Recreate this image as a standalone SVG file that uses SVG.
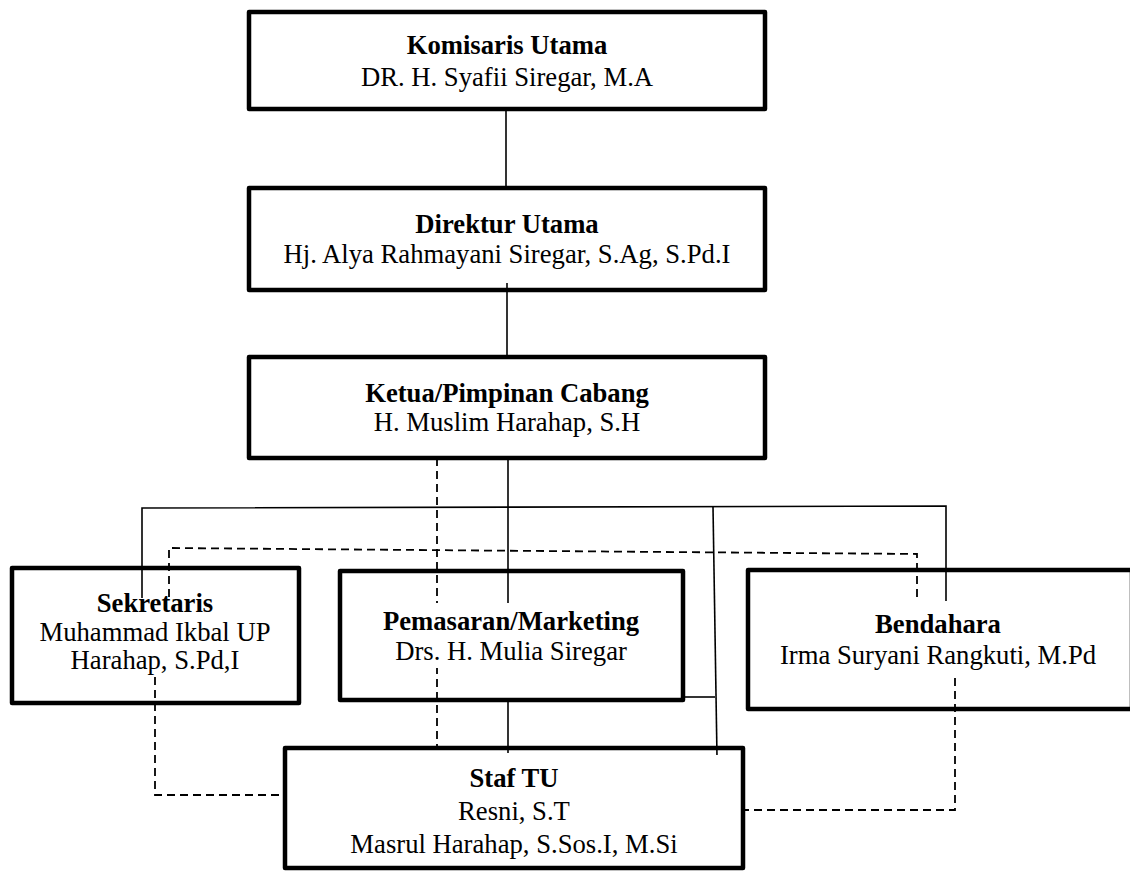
<svg xmlns="http://www.w3.org/2000/svg" width="1130" height="871" viewBox="0 0 1130 871">
<style>
.frame{fill:none;stroke:#000;stroke-width:4.5;stroke-linejoin:round}
.ta{fill:#fff;stroke:none}
.t{font-family:"Liberation Serif","Times New Roman",serif;font-size:26.67px;fill:#000;text-anchor:middle}
.b{font-weight:bold}
.s{fill:none;stroke:#000;stroke-width:1.6}
.d{fill:none;stroke:#000;stroke-width:1.8;stroke-dasharray:8 5}
</style>
<rect width="1130" height="871" fill="#fff"/>
<g id="connectors">
<line class="s" x1="506" y1="109" x2="506" y2="188"/>
<line class="s" x1="507" y1="283" x2="507" y2="357"/>
<line class="s" x1="508" y1="458" x2="508" y2="603"/>
<polyline class="s" points="142,598 142,508 946,506 946,603"/>
<line class="s" x1="713" y1="507" x2="717" y2="757"/>
<line class="s" x1="683" y1="697" x2="715" y2="697"/>
<line class="s" x1="508" y1="700" x2="508" y2="753"/>
<line class="d" x1="437" y1="458" x2="437" y2="748"/>
<polyline class="d" points="169,597 169,548 917,554 917,600"/>
<polyline class="d" points="155,677 155,795 282,795"/>
<polyline class="d" points="955,678 955,810 743,810"/>
</g>
<g id="komisaris">
<rect class="frame" x="249" y="12" width="516" height="97"/>
<text class="t b" x="507" y="54">Komisaris Utama</text>
<text class="t" x="507" y="86">DR. H. Syafii Siregar, M.A</text>
</g>
<g id="direktur">
<rect class="frame" x="249" y="188" width="516" height="102"/>
<text class="t b" x="507" y="233">Direktur Utama</text>
<text class="t" x="507" y="263">Hj. Alya Rahmayani Siregar, S.Ag, S.Pd.I</text>
</g>
<g id="ketua">
<rect class="frame" x="249" y="357" width="516" height="101"/>
<text class="t b" x="507" y="402">Ketua/Pimpinan Cabang</text>
<text class="t" x="507" y="431">H. Muslim Harahap, S.H</text>
</g>
<g id="sekretaris">
<rect class="frame" x="12" y="568" width="287" height="135"/>
<rect class="ta" x="20" y="598" width="272" height="79"/>
<text class="t b" x="155" y="612">Sekretaris</text>
<text class="t" x="155" y="641">Muhammad Ikbal UP</text>
<text class="t" x="155" y="669">Harahap, S.Pd,I</text>
</g>
<g id="pemasaran">
<rect class="frame" x="340" y="571" width="343" height="129"/>
<rect class="ta" x="352" y="603" width="318" height="65"/>
<text class="t b" x="511" y="630">Pemasaran/Marketing</text>
<text class="t" x="511" y="660">Drs. H. Mulia Siregar</text>
</g>
<g id="bendahara">
<rect class="frame" x="748" y="570" width="384" height="139"/>
<rect class="ta" x="762" y="601" width="356" height="77"/>
<text class="t b" x="938" y="633">Bendahara</text>
<text class="t" x="938" y="664">Irma Suryani Rangkuti, M.Pd</text>
</g>
<g id="staf-tu">
<rect class="frame" x="285" y="748" width="458" height="120"/>
<rect class="ta" x="295" y="755" width="438" height="108"/>
<text class="t b" x="514" y="787">Staf TU</text>
<text class="t" x="514" y="820">Resni, S.T</text>
<text class="t" x="514" y="853">Masrul Harahap, S.Sos.I, M.Si</text>
</g>
</svg>
